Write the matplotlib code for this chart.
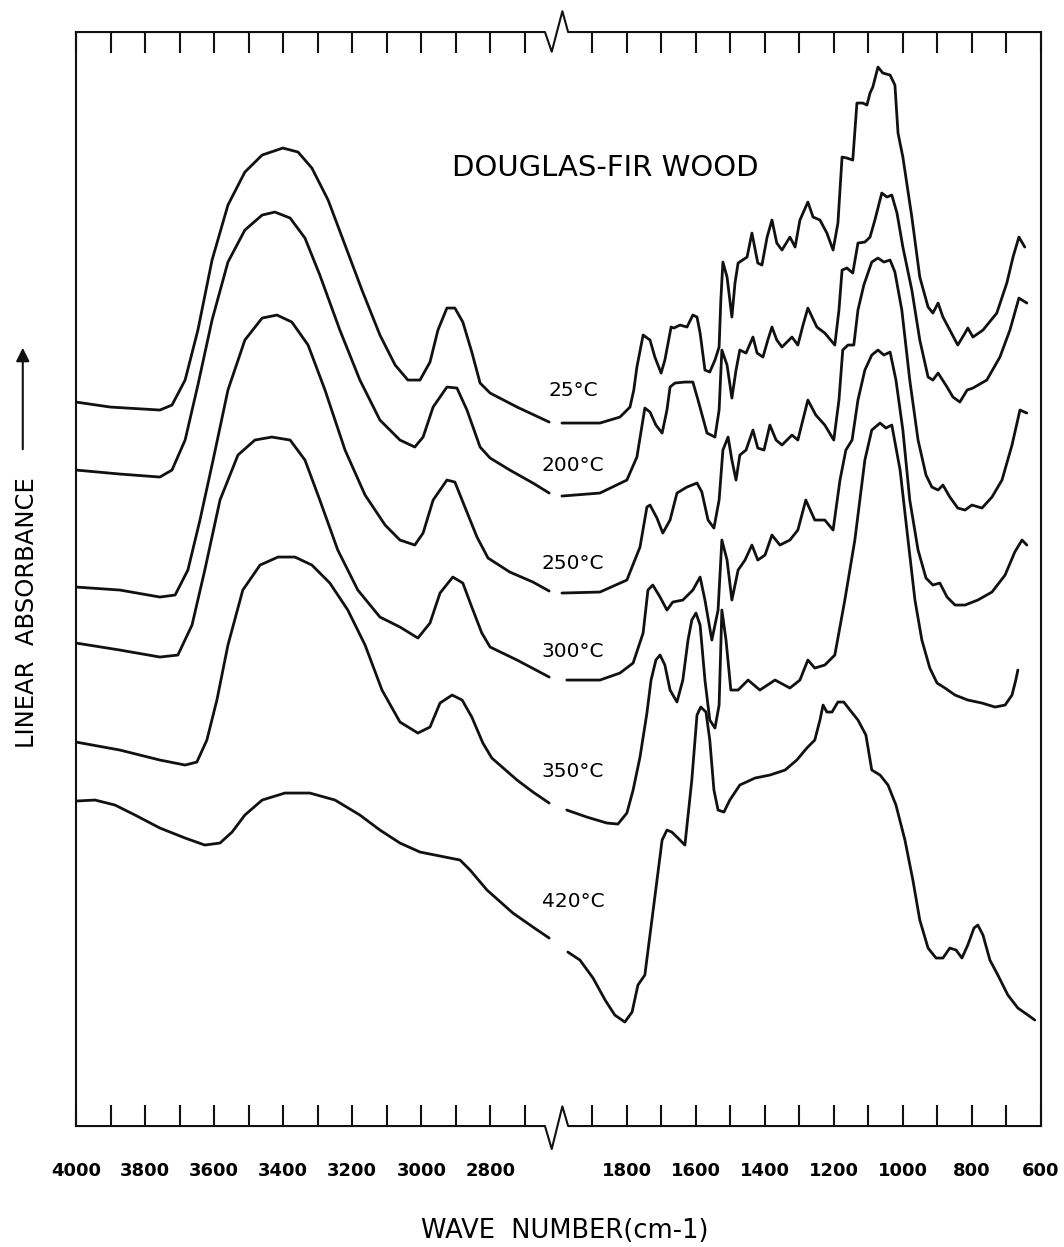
import numpy as np
import matplotlib.pyplot as plt
from matplotlib import transforms
from matplotlib.ticker import NullLocator

# IR absorbance traces of Douglas-fir wood heated to several temperatures.
# Each trace is split into the 4000-2630 cm-1 part and the 2000-600 cm-1 part.

wn_25_hi = [4000, 3901, 3757, 3722, 3684, 3647, 3606, 3560, 3511, 3461, 3401, 3357, 3317, 3270,
            3221, 3172, 3120, 3076, 3039, 3004, 2975, 2952, 2926, 2903, 2880, 2854, 2830, 2801,
            2723, 2630]
ab_25_hi = [7.24, 7.19, 7.16, 7.21, 7.46, 7.96, 8.66, 9.21, 9.54, 9.71, 9.78, 9.74, 9.58, 9.26,
            8.81, 8.36, 7.91, 7.61, 7.46, 7.46, 7.64, 7.96, 8.18, 8.18, 8.04, 7.74, 7.43, 7.33,
            7.19, 7.04]
wn_25_lo = [1987, 1877, 1819, 1790, 1779, 1770, 1752, 1732, 1718, 1700, 1689, 1671, 1663, 1645,
            1625, 1608, 1596, 1587, 1573, 1559, 1544, 1532, 1527, 1521, 1509, 1495, 1486, 1477,
            1451, 1437, 1420, 1408, 1393, 1379, 1365, 1350, 1327, 1312, 1298, 1275, 1260, 1240,
            1220, 1202, 1188, 1176, 1162, 1145, 1133, 1116, 1104, 1095, 1087, 1072, 1058, 1037,
            1023, 1014, 1000, 974, 951, 927, 913, 898, 884, 864, 841, 820, 812, 797, 768, 728,
            699, 681, 664, 647]
ab_25_lo = [7.03, 7.03, 7.09, 7.19, 7.36, 7.59, 7.91, 7.86, 7.69, 7.53, 7.66, 7.99, 7.98, 8.01,
            7.99, 8.11, 8.09, 7.93, 7.56, 7.54, 7.66, 7.79, 8.26, 8.64, 8.49, 8.09, 8.43, 8.63,
            8.69, 8.93, 8.63, 8.61, 8.89, 9.06, 8.83, 8.76, 8.89, 8.79, 9.06, 9.24, 9.09, 9.06,
            8.93, 8.76, 9.03, 9.69, 9.68, 9.66, 10.23, 10.23, 10.21, 10.33, 10.39, 10.59, 10.53, 10.51,
            10.41, 9.93, 9.69, 9.09, 8.49, 8.19, 8.13, 8.23, 8.09, 7.96, 7.81, 7.93, 7.98, 7.89, 7.96, 8.13,
            8.43, 8.69, 8.89, 8.79]

wn_200_hi = [4000, 3873, 3757, 3722, 3684, 3647, 3606, 3560, 3511, 3461, 3424, 3380, 3337, 3294,
             3236, 3178, 3120, 3062, 3019, 2995, 2966, 2926, 2897, 2868, 2830, 2801, 2744, 2677,
             2630]
ab_200_hi = [6.56, 6.52, 6.49, 6.56, 6.86, 7.41, 8.06, 8.64, 8.96, 9.11, 9.14, 9.08, 8.88, 8.51,
             7.96, 7.46, 7.06, 6.86, 6.79, 6.89, 7.19, 7.39, 7.38, 7.16, 6.79, 6.68, 6.56, 6.43,
             6.33]
wn_200_lo = [1987, 1877, 1799, 1770, 1747, 1732, 1715, 1697, 1683, 1674, 1660, 1631, 1608, 1593,
             1567, 1544, 1532, 1524, 1509, 1495, 1483, 1472, 1454, 1434, 1422, 1405, 1391, 1379,
             1365, 1350, 1321, 1304, 1289, 1275, 1249, 1226, 1197, 1185, 1176, 1162, 1145, 1130,
             1110, 1095, 1081, 1061, 1046, 1032, 1017, 1000, 974, 951, 927, 913, 898, 872, 855,
             835, 814, 797, 757, 719, 690, 664, 641]
ab_200_lo = [6.30, 6.33, 6.46, 6.69, 7.18, 7.14, 7.01, 6.93, 7.16, 7.39, 7.43, 7.44, 7.44, 7.26,
             6.93, 6.89, 7.16, 7.76, 7.61, 7.28, 7.56, 7.76, 7.73, 7.89, 7.73, 7.69, 7.86, 7.99,
             7.86, 7.79, 7.89, 7.81, 8.01, 8.18, 7.99, 7.93, 7.81, 8.16, 8.56, 8.58, 8.53, 8.83,
             8.84, 8.89, 9.06, 9.33, 9.29, 9.31, 9.13, 8.79, 8.36, 7.86, 7.49, 7.46, 7.53, 7.39, 7.29,
             7.24, 7.36, 7.38, 7.46, 7.69, 7.96, 8.28, 8.23]

wn_250_hi = [4000, 3873, 3757, 3713, 3676, 3641, 3603, 3560, 3511, 3461, 3418, 3375, 3328, 3279,
             3221, 3163, 3105, 3062, 3019, 2995, 2966, 2926, 2903, 2874, 2839, 2807, 2744, 2677,
             2630]
ab_250_hi = [5.39, 5.36, 5.29, 5.31, 5.56, 6.06, 6.66, 7.36, 7.86, 8.08, 8.11, 8.04, 7.81, 7.36,
             6.76, 6.31, 6.01, 5.86, 5.81, 5.93, 6.26, 6.46, 6.44, 6.19, 5.89, 5.68, 5.54, 5.44,
             5.35]
wn_250_lo = [1987, 1877, 1799, 1761, 1741, 1732, 1712, 1695, 1674, 1654, 1625, 1596, 1582, 1564,
             1547, 1532, 1521, 1506, 1495, 1483, 1472, 1454, 1434, 1420, 1402, 1385, 1367, 1350,
             1321, 1304, 1275, 1252, 1226, 1200, 1185, 1174, 1159, 1142, 1130, 1113, 1090, 1072,
             1055, 1037, 1023, 1003, 980, 956, 933, 916, 898, 884, 864, 841, 820, 800, 771, 742,
             713, 684, 661, 641]
ab_250_lo = [5.33, 5.34, 5.46, 5.79, 6.19, 6.21, 6.08, 5.93, 6.06, 6.33, 6.39, 6.43, 6.34, 6.06,
             5.98, 6.26, 6.76, 6.89, 6.66, 6.46, 6.71, 6.76, 6.96, 6.78, 6.76, 7.01, 6.86, 6.81,
             6.91, 6.86, 7.26, 7.11, 7.01, 6.86, 7.26, 7.76, 7.81, 7.81, 8.16, 8.41, 8.64, 8.68,
             8.64, 8.66, 8.54, 8.16, 7.46, 6.86, 6.51, 6.39, 6.36, 6.41, 6.29, 6.18, 6.16, 6.21, 6.18, 6.29,
             6.46, 6.81, 7.16, 7.13]

wn_300_hi = [4000, 3873, 3757, 3705, 3664, 3627, 3583, 3531, 3482, 3433, 3380, 3337, 3294, 3242,
             3184, 3120, 3062, 3010, 2975, 2946, 2909, 2880, 2854, 2825, 2801, 2723, 2630]
ab_300_hi = [4.83, 4.76, 4.69, 4.71, 5.01, 5.56, 6.26, 6.71, 6.86, 6.89, 6.86, 6.66, 6.26, 5.76,
             5.36, 5.09, 4.99, 4.88, 5.03, 5.33, 5.49, 5.43, 5.19, 4.93, 4.79, 4.66, 4.49]
wn_300_lo = [1973, 1877, 1819, 1781, 1752, 1738, 1724, 1703, 1683, 1666, 1637, 1608, 1587, 1573,
             1553, 1535, 1524, 1509, 1495, 1477, 1457, 1437, 1420, 1399, 1379, 1356, 1327, 1304,
             1281, 1255, 1226, 1202, 1182, 1165, 1147, 1130, 1110, 1090, 1072, 1055, 1037, 1020,
             1000, 980, 956, 933, 913, 893, 872, 849, 820, 783, 742, 704, 676, 655, 641]
ab_300_lo = [4.46, 4.46, 4.53, 4.63, 4.93, 5.36, 5.41, 5.29, 5.16, 5.24, 5.26, 5.36, 5.49, 5.26,
             4.86, 5.16, 5.86, 5.66, 5.26, 5.56, 5.66, 5.81, 5.66, 5.71, 5.91, 5.81, 5.86, 5.96,
             6.26, 6.06, 6.06, 5.96, 6.46, 6.76, 6.86, 7.26, 7.56, 7.71, 7.76, 7.71, 7.74, 7.46,
             6.96, 6.26, 5.76, 5.48, 5.41, 5.43, 5.29, 5.21, 5.21, 5.26, 5.34, 5.51, 5.74, 5.86, 5.81]

wn_350_hi = [4000, 3873, 3757, 3684, 3650, 3621, 3592, 3560, 3517, 3467, 3415, 3366, 3317, 3265,
             3213, 3163, 3114, 3062, 3010, 2975, 2946, 2911, 2882, 2854, 2822, 2796, 2723, 2677,
             2630]
ab_350_hi = [3.84, 3.76, 3.66, 3.61, 3.64, 3.86, 4.26, 4.81, 5.36, 5.61, 5.69, 5.69, 5.61, 5.43,
             5.16, 4.81, 4.36, 4.04, 3.93, 3.99, 4.23, 4.31, 4.26, 4.09, 3.83, 3.68, 3.46, 3.34,
             3.23]
wn_350_lo = [1973, 1915, 1857, 1825, 1799, 1781, 1761, 1741, 1729, 1715, 1703, 1689, 1674, 1654,
             1637, 1622, 1611, 1599, 1587, 1573, 1559, 1544, 1532, 1524, 1512, 1498, 1477, 1448,
             1414, 1370, 1327, 1298, 1275, 1255, 1226, 1197, 1168, 1139, 1110, 1090, 1066, 1049,
             1032, 1008, 985, 965, 945, 922, 901, 878, 849, 812, 771, 733, 704, 684, 673, 667]
ab_350_lo = [3.16, 3.09, 3.03, 3.02, 3.13, 3.36, 3.69, 4.13, 4.46, 4.66, 4.71, 4.61, 4.36, 4.24,
             4.46, 4.86, 5.06, 5.13, 5.01, 4.46, 4.06, 3.98, 4.21, 5.16, 4.86, 4.36, 4.36, 4.46,
             4.36, 4.46, 4.38, 4.46, 4.66, 4.58, 4.61, 4.71, 5.26, 5.86, 6.66, 6.96, 7.03, 6.98,
             7.01, 6.56, 5.86, 5.26, 4.86, 4.58, 4.43, 4.38, 4.31, 4.26, 4.23, 4.19, 4.21, 4.31,
             4.46, 4.56]

wn_420_hi = [4000, 3945, 3887, 3829, 3757, 3684, 3627, 3583, 3548, 3511, 3461, 3395, 3323, 3250,
             3178, 3120, 3062, 3004, 2946, 2888, 2859, 2810, 2735, 2677, 2630]
ab_420_hi = [3.25, 3.26, 3.21, 3.11, 2.98, 2.88, 2.81, 2.83, 2.94, 3.11, 3.26, 3.33, 3.33, 3.26,
             3.11, 2.96, 2.83, 2.74, 2.70, 2.66, 2.56, 2.36, 2.13, 1.99, 1.88]
wn_420_lo = [1970, 1935, 1897, 1862, 1834, 1805, 1784, 1767, 1747, 1724, 1697, 1683, 1669, 1654,
             1631, 1611, 1596, 1585, 1570, 1559, 1547, 1535, 1518, 1501, 1472, 1428, 1385, 1341,
             1307, 1278, 1255, 1240, 1231, 1220, 1205, 1188, 1171, 1153, 1130, 1107, 1090, 1066,
             1043, 1020, 994, 971, 951, 927, 904, 884, 864, 846, 829, 812, 794, 783, 768, 748,
             725, 696, 667, 638, 618]
ab_420_lo = [1.74, 1.66, 1.48, 1.26, 1.11, 1.04, 1.14, 1.41, 1.51, 2.13, 2.86, 2.96, 2.94, 2.89,
             2.81, 3.46, 4.11, 4.19, 4.14, 3.86, 3.36, 3.16, 3.14, 3.26, 3.41, 3.48, 3.51, 3.56,
             3.66, 3.78, 3.86, 4.06, 4.21, 4.14, 4.14, 4.24, 4.24, 4.16, 4.06, 3.91, 3.56, 3.51,
             3.41, 3.21, 2.86, 2.46, 2.06, 1.78, 1.68, 1.68, 1.78, 1.76, 1.68, 1.81, 1.98, 2.01,
             1.91, 1.66, 1.51, 1.31, 1.18, 1.11, 1.06]

traces = [
    (wn_25_hi, ab_25_hi, wn_25_lo, ab_25_lo),
    (wn_200_hi, ab_200_hi, wn_200_lo, ab_200_lo),
    (wn_250_hi, ab_250_hi, wn_250_lo, ab_250_lo),
    (wn_300_hi, ab_300_hi, wn_300_lo, ab_300_lo),
    (wn_350_hi, ab_350_hi, wn_350_lo, ab_350_lo),
    (wn_420_hi, ab_420_hi, wn_420_lo, ab_420_lo),
]
temp_labels = ['25°C', '200°C', '250°C', '300°C', '350°C', '420°C']
temp_label_y = [7.36, 6.61, 5.63, 4.75, 3.55, 2.25]


# broken wavenumber axis: 2630-2000 cm-1 squeezed into a narrow gap
def fwd(w):
    w = np.asarray(w, dtype=float)
    return np.interp(-w, [-5000, -2630, -2000, 0], [-1000, 1370, 1394, 3394])


def inv(p):
    p = np.asarray(p, dtype=float)
    return -np.interp(p, [-1000, 1370, 1394, 3394], [-5000, -2630, -2000, 0])


fig = plt.figure(figsize=(10.64, 12.47), dpi=100)
ax = fig.add_axes([0.0714, 0.0970, 0.9070, 0.8773])
ax.set_xscale('function', functions=(fwd, inv))
ax.set_xlim(600, 4000)
ax.set_ylim(0, 10.94)

for w1, a1, w2, a2 in traces:
    for w, a in ((w1, a1), (w2, a2)):
        ax.plot(w, a, color='#111111', lw=2.0,
                solid_capstyle='round', solid_joinstyle='round')

# ticks every 100 cm-1, labels every 200
tick_wn = list(range(4000, 2699, -100)) + list(range(1900, 599, -100))
tick_txt = [str(w) if w % 200 == 0 and (w >= 2800 or w <= 1800) else '' for w in tick_wn]
ax.set_xticks(tick_wn, tick_txt)
ax.xaxis.set_minor_locator(NullLocator())
ax.tick_params(axis='x', which='major', direction='in', top=True, bottom=True,
               length=15, width=1.5, pad=26, labelsize=13, color='#111111')
for lab in ax.get_xticklabels():
    lab.set_fontweight('bold')
ax.set_yticks([])

for side in ('top', 'bottom'):
    ax.spines[side].set_visible(False)
for side in ('left', 'right'):
    ax.spines[side].set_linewidth(1.5)
    ax.spines[side].set_color('#111111')

# frame lines with the break marks
brk_x = [0, 0.486, 0.493, 0.504, 0.510, 1]
ax.plot(brk_x, [1, 1, 0.982, 1.019, 1, 1], transform=ax.transAxes,
        color='#111111', lw=1.5, clip_on=False)
ax.plot(brk_x, [0, 0, -0.021, 0.018, 0, 0], transform=ax.transAxes,
        color='#111111', lw=1.5, clip_on=False)

blend = transforms.blended_transform_factory(ax.transAxes, ax.transData)
for txt, yv in zip(temp_labels, temp_label_y):
    ax.text(0.515, yv, txt, transform=blend, fontsize=14.5, ha='center', va='center')

ax.text(0.548, 9.58, 'DOUGLAS-FIR WOOD', transform=blend, fontsize=21,
        ha='center', va='center')

fig.text(0.0254, 0.509, 'LINEAR  ABSORBANCE', rotation=90, fontsize=17.5,
         ha='center', va='center')
ax.annotate('', xy=(0.0214, 0.7233), xytext=(0.0214, 0.6375),
            xycoords='figure fraction', textcoords='figure fraction',
            arrowprops=dict(arrowstyle='-|>', color='#111111', lw=1.5,
                            mutation_scale=20))

fig.text(0.531, 0.0132, 'WAVE  NUMBER(cm-1)', fontsize=18.5, ha='center', va='center')

fig.savefig('out.png', dpi=100, facecolor='white')
